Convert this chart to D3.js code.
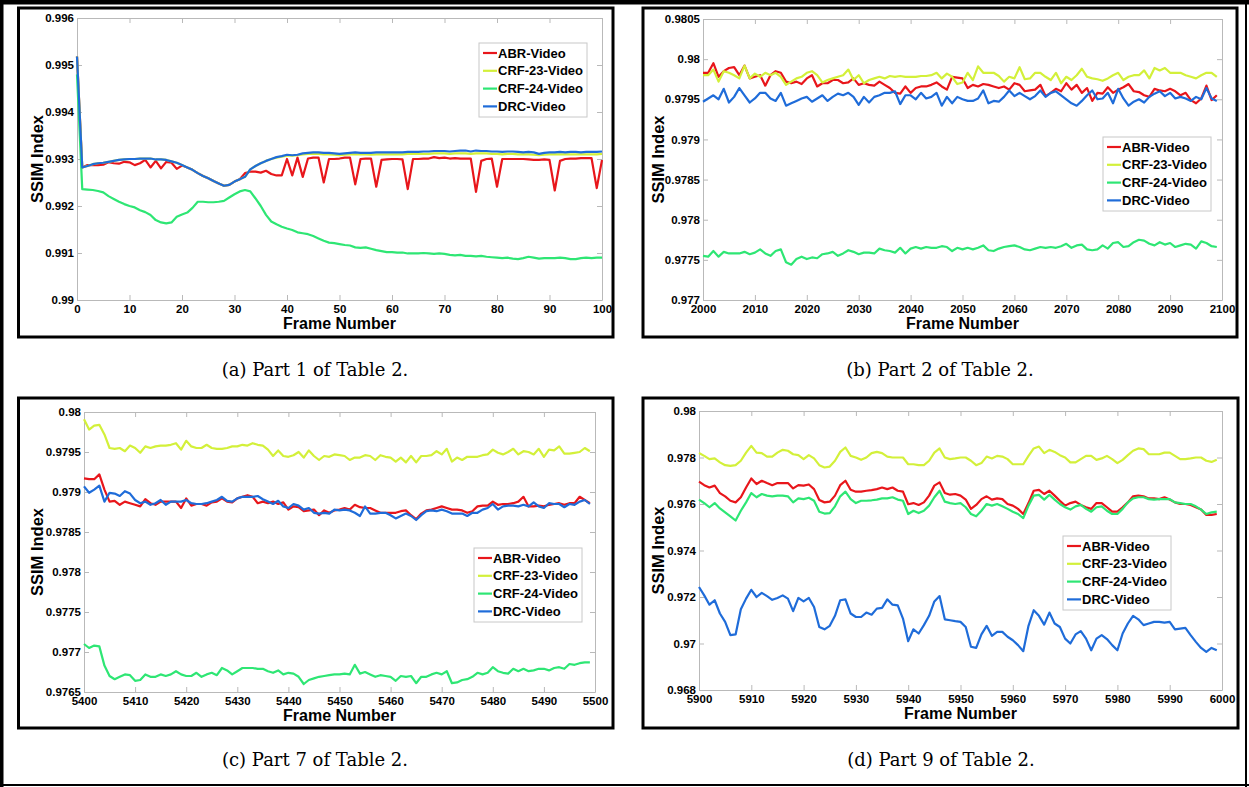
<!DOCTYPE html>
<html>
<head>
<meta charset="utf-8">
<script src="https://cdn.jsdelivr.net/npm/d3@7"></script>
<style>
  body { margin: 0; background: #fff; }
  svg text { font-family: "Liberation Sans", Arial, Helvetica, sans-serif; }
</style>
</head>
<body>
<svg id="fig" width="1249" height="787"></svg>
<script>
/* ---------- series meta ---------- */
const seriesNames  = ['ABR-Video', 'CRF-23-Video', 'CRF-24-Video', 'DRC-Video'];
const seriesColors = ['#e8161b', '#d3f03a', '#2ee674', '#1f6cd9'];

/* ---------- (a) frames 0..100 ---------- */
const startA = 0;
const xTicksA = [0, 10, 20, 30, 40, 50, 60, 70, 80, 90, 100];
const yTicksA = [0.990, 0.991, 0.992, 0.993, 0.994, 0.995, 0.996];
const abrA = [
  0.99518, 0.99282, 0.99287, 0.99287, 0.99287, 0.99288, 0.99293, 0.99291, 0.99290, 0.99294,
  0.99293, 0.99287, 0.99291, 0.99298, 0.99282, 0.99296, 0.99280, 0.99294, 0.99292, 0.99279,
  0.99286, 0.99282, 0.99277, 0.99270, 0.99264, 0.99259, 0.99253, 0.99248, 0.99243, 0.99245,
  0.99252, 0.99257, 0.99270, 0.99273, 0.99273, 0.99271, 0.99275, 0.99268, 0.99265, 0.99265,
  0.99300, 0.99265, 0.99303, 0.99262, 0.99301, 0.99303, 0.99303, 0.99250, 0.99300, 0.99300,
  0.99301, 0.99303, 0.99303, 0.99246, 0.99300, 0.99301, 0.99301, 0.99241, 0.99298, 0.99299,
  0.99300, 0.99300, 0.99299, 0.99236, 0.99300, 0.99300, 0.99301, 0.99301, 0.99304, 0.99302,
  0.99303, 0.99301, 0.99302, 0.99301, 0.99301, 0.99301, 0.99230, 0.99296, 0.99300, 0.99301,
  0.99241, 0.99300, 0.99300, 0.99300, 0.99300, 0.99300, 0.99299, 0.99298, 0.99298, 0.99299,
  0.99298, 0.99233, 0.99296, 0.99300, 0.99301, 0.99301, 0.99302, 0.99302, 0.99302, 0.99238,
  0.99298];
const crf23A = [
  0.99518, 0.99282, 0.99285, 0.99289, 0.99291, 0.99292, 0.99294, 0.99296, 0.99298, 0.99299,
  0.99300, 0.99300, 0.99301, 0.99301, 0.99301, 0.99299, 0.99299, 0.99298, 0.99295, 0.99292,
  0.99287, 0.99282, 0.99277, 0.99270, 0.99264, 0.99259, 0.99253, 0.99248, 0.99243, 0.99245,
  0.99252, 0.99257, 0.99262, 0.99278, 0.99285, 0.99291, 0.99296, 0.99300, 0.99303, 0.99305,
  0.99307, 0.99307, 0.99308, 0.99310, 0.99311, 0.99311, 0.99311, 0.99310, 0.99310, 0.99309,
  0.99308, 0.99309, 0.99310, 0.99310, 0.99310, 0.99310, 0.99309, 0.99310, 0.99310, 0.99310,
  0.99310, 0.99310, 0.99310, 0.99311, 0.99311, 0.99311, 0.99311, 0.99311, 0.99312, 0.99312,
  0.99312, 0.99311, 0.99312, 0.99312, 0.99312, 0.99311, 0.99312, 0.99312, 0.99312, 0.99311,
  0.99311, 0.99310, 0.99311, 0.99311, 0.99310, 0.99310, 0.99310, 0.99309, 0.99308, 0.99309,
  0.99310, 0.99310, 0.99310, 0.99310, 0.99310, 0.99310, 0.99310, 0.99310, 0.99310, 0.99310,
  0.99311];
const crf24A = [
  0.99480, 0.99236, 0.99235, 0.99234, 0.99232, 0.99229, 0.99221, 0.99215, 0.99209, 0.99204,
  0.99200, 0.99197, 0.99191, 0.99187, 0.99181, 0.99170, 0.99165, 0.99163, 0.99165, 0.99177,
  0.99182, 0.99186, 0.99196, 0.99209, 0.99209, 0.99208, 0.99208, 0.99209, 0.99211, 0.99218,
  0.99225, 0.99231, 0.99234, 0.99231, 0.99216, 0.99200, 0.99181, 0.99167, 0.99161, 0.99156,
  0.99152, 0.99149, 0.99144, 0.99142, 0.99140, 0.99136, 0.99131, 0.99126, 0.99122, 0.99121,
  0.99119, 0.99117, 0.99116, 0.99112, 0.99111, 0.99112, 0.99109, 0.99106, 0.99104, 0.99102,
  0.99102, 0.99101, 0.99101, 0.99099, 0.99099, 0.99099, 0.99100, 0.99099, 0.99098, 0.99099,
  0.99098, 0.99096, 0.99095, 0.99096, 0.99094, 0.99094, 0.99093, 0.99094, 0.99092, 0.99091,
  0.99090, 0.99089, 0.99090, 0.99088, 0.99087, 0.99089, 0.99092, 0.99090, 0.99088, 0.99089,
  0.99089, 0.99089, 0.99090, 0.99089, 0.99087, 0.99087, 0.99089, 0.99090, 0.99089, 0.99090,
  0.99090];
const drcA = [
  0.99518, 0.99282, 0.99285, 0.99289, 0.99291, 0.99292, 0.99294, 0.99296, 0.99298, 0.99299,
  0.99300, 0.99300, 0.99301, 0.99301, 0.99301, 0.99299, 0.99299, 0.99298, 0.99295, 0.99292,
  0.99287, 0.99282, 0.99277, 0.99270, 0.99264, 0.99259, 0.99253, 0.99248, 0.99243, 0.99245,
  0.99252, 0.99257, 0.99262, 0.99278, 0.99285, 0.99291, 0.99296, 0.99300, 0.99304, 0.99306,
  0.99309, 0.99308, 0.99309, 0.99312, 0.99313, 0.99314, 0.99314, 0.99313, 0.99313, 0.99312,
  0.99311, 0.99312, 0.99313, 0.99314, 0.99313, 0.99313, 0.99313, 0.99314, 0.99314, 0.99314,
  0.99314, 0.99314, 0.99314, 0.99315, 0.99315, 0.99315, 0.99316, 0.99316, 0.99317, 0.99317,
  0.99317, 0.99316, 0.99317, 0.99318, 0.99318, 0.99316, 0.99318, 0.99317, 0.99317, 0.99316,
  0.99316, 0.99315, 0.99316, 0.99316, 0.99315, 0.99314, 0.99315, 0.99314, 0.99311, 0.99313,
  0.99314, 0.99314, 0.99315, 0.99314, 0.99315, 0.99315, 0.99314, 0.99315, 0.99315, 0.99315,
  0.99316];

/* ---------- (b) frames 2000..2099 ---------- */
const startB = 2000;
const xTicksB = [2000, 2010, 2020, 2030, 2040, 2050, 2060, 2070, 2080, 2090, 2100];
const yTicksB = [0.977, 0.9775, 0.978, 0.9785, 0.979, 0.9795, 0.980, 0.9805];
const abrB = [
  0.97983, 0.97983, 0.97995, 0.97978, 0.97985, 0.97989, 0.97990, 0.97980, 0.97992, 0.97976,
  0.97978, 0.97980, 0.97967, 0.97980, 0.97985, 0.97983, 0.97972, 0.97970, 0.97972, 0.97969,
  0.97976, 0.97980, 0.97966, 0.97970, 0.97970, 0.97974, 0.97974, 0.97970, 0.97971, 0.97976,
  0.97968, 0.97970, 0.97968, 0.97967, 0.97972, 0.97968, 0.97964, 0.97958, 0.97957, 0.97966,
  0.97958, 0.97964, 0.97966, 0.97966, 0.97968, 0.97971, 0.97966, 0.97962, 0.97978, 0.97977,
  0.97976, 0.97964, 0.97968, 0.97966, 0.97969, 0.97968, 0.97966, 0.97964, 0.97966, 0.97962,
  0.97970, 0.97968, 0.97960, 0.97961, 0.97962, 0.97968, 0.97954, 0.97958, 0.97963, 0.97960,
  0.97970, 0.97962, 0.97968, 0.97958, 0.97964, 0.97948, 0.97958, 0.97957, 0.97965, 0.97958,
  0.97962, 0.97965, 0.97969, 0.97960, 0.97959, 0.97955, 0.97953, 0.97963, 0.97961, 0.97960,
  0.97963, 0.97960, 0.97955, 0.97958, 0.97949, 0.97945, 0.97951, 0.97967, 0.97949, 0.97955];
const crf23B = [
  0.97980, 0.97980, 0.97987, 0.97972, 0.97985, 0.97983, 0.97980, 0.97976, 0.97992, 0.97976,
  0.97982, 0.97978, 0.97983, 0.97980, 0.97983, 0.97978, 0.97968, 0.97972, 0.97976, 0.97978,
  0.97983, 0.97985, 0.97980, 0.97971, 0.97974, 0.97976, 0.97978, 0.97980, 0.97987, 0.97974,
  0.97980, 0.97970, 0.97974, 0.97976, 0.97978, 0.97976, 0.97979, 0.97978, 0.97979, 0.97978,
  0.97978, 0.97978, 0.97979, 0.97979, 0.97980, 0.97983, 0.97976, 0.97982, 0.97978, 0.97969,
  0.97971, 0.97983, 0.97974, 0.97991, 0.97983, 0.97983, 0.97983, 0.97979, 0.97972, 0.97978,
  0.97976, 0.97990, 0.97975, 0.97976, 0.97983, 0.97983, 0.97978, 0.97974, 0.97983, 0.97970,
  0.97978, 0.97974, 0.97980, 0.97988, 0.97978, 0.97976, 0.97975, 0.97973, 0.97976, 0.97980,
  0.97983, 0.97974, 0.97978, 0.97980, 0.97980, 0.97986, 0.97976, 0.97989, 0.97986, 0.97989,
  0.97983, 0.97983, 0.97983, 0.97980, 0.97978, 0.97976, 0.97980, 0.97983, 0.97983, 0.97978];
const crf24B = [
  0.97755, 0.97754, 0.97761, 0.97754, 0.97760, 0.97758, 0.97758, 0.97758, 0.97760, 0.97757,
  0.97759, 0.97763, 0.97758, 0.97755, 0.97761, 0.97763, 0.97747, 0.97744, 0.97751, 0.97754,
  0.97751, 0.97753, 0.97752, 0.97757, 0.97758, 0.97760, 0.97755, 0.97758, 0.97762, 0.97760,
  0.97757, 0.97759, 0.97759, 0.97758, 0.97764, 0.97762, 0.97761, 0.97759, 0.97765, 0.97758,
  0.97764, 0.97766, 0.97764, 0.97766, 0.97765, 0.97765, 0.97767, 0.97766, 0.97761, 0.97765,
  0.97763, 0.97765, 0.97763, 0.97765, 0.97768, 0.97762, 0.97761, 0.97764, 0.97766, 0.97767,
  0.97768, 0.97766, 0.97763, 0.97762, 0.97764, 0.97766, 0.97765, 0.97766, 0.97765, 0.97767,
  0.97770, 0.97765, 0.97768, 0.97769, 0.97763, 0.97762, 0.97763, 0.97768, 0.97764, 0.97771,
  0.97772, 0.97766, 0.97767, 0.97772, 0.97775, 0.97774, 0.97770, 0.97768, 0.97772, 0.97769,
  0.97771, 0.97766, 0.97768, 0.97770, 0.97769, 0.97764, 0.97773, 0.97771, 0.97767, 0.97766];
const drcB = [
  0.97947, 0.97951, 0.97955, 0.97950, 0.97963, 0.97946, 0.97953, 0.97964, 0.97955, 0.97946,
  0.97951, 0.97958, 0.97958, 0.97951, 0.97948, 0.97958, 0.97942, 0.97945, 0.97948, 0.97951,
  0.97953, 0.97947, 0.97951, 0.97955, 0.97948, 0.97953, 0.97957, 0.97955, 0.97958, 0.97953,
  0.97943, 0.97953, 0.97946, 0.97953, 0.97955, 0.97958, 0.97958, 0.97960, 0.97944, 0.97955,
  0.97955, 0.97950, 0.97958, 0.97951, 0.97953, 0.97958, 0.97942, 0.97953, 0.97945, 0.97953,
  0.97950, 0.97948, 0.97948, 0.97951, 0.97961, 0.97945, 0.97948, 0.97947, 0.97953, 0.97961,
  0.97954, 0.97958, 0.97954, 0.97950, 0.97954, 0.97961, 0.97953, 0.97958, 0.97960, 0.97955,
  0.97950, 0.97945, 0.97942, 0.97948, 0.97955, 0.97961, 0.97950, 0.97951, 0.97958, 0.97945,
  0.97963, 0.97951, 0.97942, 0.97947, 0.97950, 0.97946, 0.97953, 0.97957, 0.97960, 0.97954,
  0.97958, 0.97951, 0.97953, 0.97951, 0.97948, 0.97953, 0.97950, 0.97964, 0.97951, 0.97948];

/* ---------- (c) frames 5400..5499 ---------- */
const startC = 5400;
const xTicksC = [5400, 5410, 5420, 5430, 5440, 5450, 5460, 5470, 5480, 5490, 5500];
const yTicksC = [0.9765, 0.977, 0.9775, 0.978, 0.9785, 0.979, 0.9795, 0.980];
const abrC = [
  0.97917, 0.97916, 0.97916, 0.97922, 0.97903, 0.97888, 0.97889, 0.97884, 0.97888, 0.97886,
  0.97884, 0.97882, 0.97891, 0.97886, 0.97884, 0.97888, 0.97888, 0.97888, 0.97888, 0.97880,
  0.97892, 0.97883, 0.97885, 0.97885, 0.97883, 0.97887, 0.97888, 0.97892, 0.97888, 0.97887,
  0.97892, 0.97894, 0.97896, 0.97894, 0.97886, 0.97888, 0.97886, 0.97888, 0.97885, 0.97887,
  0.97878, 0.97882, 0.97881, 0.97876, 0.97877, 0.97878, 0.97871, 0.97877, 0.97874, 0.97877,
  0.97878, 0.97880, 0.97878, 0.97884, 0.97881, 0.97880, 0.97880, 0.97877, 0.97874, 0.97874,
  0.97874, 0.97874, 0.97876, 0.97877, 0.97871, 0.97866, 0.97873, 0.97877, 0.97878, 0.97880,
  0.97882, 0.97880, 0.97878, 0.97878, 0.97877, 0.97874, 0.97876, 0.97882, 0.97883, 0.97883,
  0.97888, 0.97884, 0.97885, 0.97885, 0.97886, 0.97888, 0.97894, 0.97882, 0.97882, 0.97883,
  0.97882, 0.97884, 0.97885, 0.97886, 0.97884, 0.97886, 0.97886, 0.97894, 0.97890, 0.97886];
const crf23C = [
  0.97991, 0.97978, 0.97983, 0.97984, 0.97972, 0.97955, 0.97954, 0.97955, 0.97951, 0.97958,
  0.97955, 0.97949, 0.97957, 0.97955, 0.97957, 0.97958, 0.97958, 0.97959, 0.97961, 0.97953,
  0.97964, 0.97957, 0.97955, 0.97955, 0.97959, 0.97955, 0.97954, 0.97954, 0.97955, 0.97957,
  0.97957, 0.97959, 0.97958, 0.97961, 0.97959, 0.97958, 0.97953, 0.97945, 0.97952, 0.97945,
  0.97944, 0.97946, 0.97950, 0.97943, 0.97952, 0.97945, 0.97940, 0.97945, 0.97944, 0.97947,
  0.97946, 0.97945, 0.97940, 0.97943, 0.97943, 0.97946, 0.97945, 0.97940, 0.97946, 0.97944,
  0.97943, 0.97938, 0.97943, 0.97937, 0.97945, 0.97937, 0.97945, 0.97945, 0.97946, 0.97951,
  0.97947, 0.97954, 0.97938, 0.97943, 0.97940, 0.97944, 0.97944, 0.97944, 0.97946, 0.97947,
  0.97953, 0.97949, 0.97947, 0.97950, 0.97954, 0.97947, 0.97951, 0.97950, 0.97947, 0.97954,
  0.97944, 0.97953, 0.97952, 0.97957, 0.97948, 0.97948, 0.97949, 0.97950, 0.97955, 0.97951];
const crf24C = [
  0.97710, 0.97705, 0.97708, 0.97707, 0.97683, 0.97670, 0.97666, 0.97669, 0.97672, 0.97671,
  0.97664, 0.97665, 0.97672, 0.97669, 0.97669, 0.97672, 0.97670, 0.97672, 0.97676, 0.97672,
  0.97670, 0.97670, 0.97674, 0.97669, 0.97672, 0.97674, 0.97671, 0.97680, 0.97677, 0.97672,
  0.97676, 0.97680, 0.97680, 0.97680, 0.97679, 0.97679, 0.97676, 0.97674, 0.97677, 0.97672,
  0.97674, 0.97673, 0.97669, 0.97660, 0.97665, 0.97667, 0.97669, 0.97670, 0.97671, 0.97672,
  0.97672, 0.97673, 0.97672, 0.97684, 0.97673, 0.97675, 0.97672, 0.97669, 0.97671, 0.97670,
  0.97669, 0.97664, 0.97670, 0.97669, 0.97670, 0.97661, 0.97669, 0.97669, 0.97672, 0.97674,
  0.97672, 0.97676, 0.97661, 0.97662, 0.97665, 0.97666, 0.97669, 0.97674, 0.97672, 0.97674,
  0.97681, 0.97676, 0.97674, 0.97673, 0.97679, 0.97676, 0.97679, 0.97676, 0.97677, 0.97679,
  0.97679, 0.97677, 0.97680, 0.97681, 0.97679, 0.97685, 0.97684, 0.97686, 0.97687, 0.97687];
const drcC = [
  0.97907, 0.97899, 0.97903, 0.97908, 0.97888, 0.97899, 0.97898, 0.97895, 0.97901, 0.97898,
  0.97890, 0.97886, 0.97888, 0.97884, 0.97886, 0.97890, 0.97884, 0.97888, 0.97888, 0.97888,
  0.97890, 0.97886, 0.97885, 0.97885, 0.97886, 0.97888, 0.97890, 0.97894, 0.97889, 0.97888,
  0.97892, 0.97894, 0.97894, 0.97894, 0.97895, 0.97891, 0.97888, 0.97885, 0.97889, 0.97882,
  0.97880, 0.97885, 0.97883, 0.97878, 0.97880, 0.97874, 0.97873, 0.97874, 0.97873, 0.97878,
  0.97877, 0.97878, 0.97877, 0.97874, 0.97870, 0.97882, 0.97873, 0.97873, 0.97874, 0.97874,
  0.97871, 0.97867, 0.97870, 0.97873, 0.97870, 0.97865, 0.97871, 0.97876, 0.97877, 0.97876,
  0.97878, 0.97876, 0.97873, 0.97873, 0.97873, 0.97870, 0.97874, 0.97874, 0.97878, 0.97880,
  0.97885, 0.97878, 0.97882, 0.97883, 0.97883, 0.97882, 0.97884, 0.97882, 0.97887, 0.97882,
  0.97880, 0.97886, 0.97885, 0.97885, 0.97881, 0.97885, 0.97884, 0.97888, 0.97890, 0.97885];

/* ---------- (d) frames 5900..5999 ---------- */
const startD = 5900;
const xTicksD = [5900, 5910, 5920, 5930, 5940, 5950, 5960, 5970, 5980, 5990, 6000];
const yTicksD = [0.968, 0.970, 0.972, 0.974, 0.976, 0.978, 0.980];
const abrD = [
  0.97696, 0.97681, 0.97671, 0.97679, 0.97647, 0.97633, 0.97614, 0.97607, 0.97629, 0.97671,
  0.97710, 0.97686, 0.97700, 0.97690, 0.97681, 0.97690, 0.97690, 0.97690, 0.97667, 0.97681,
  0.97679, 0.97684, 0.97664, 0.97617, 0.97607, 0.97610, 0.97636, 0.97681, 0.97700, 0.97661,
  0.97653, 0.97653, 0.97657, 0.97660, 0.97664, 0.97671, 0.97664, 0.97671, 0.97657, 0.97653,
  0.97599, 0.97604, 0.97596, 0.97607, 0.97636, 0.97679, 0.97693, 0.97647, 0.97640, 0.97643,
  0.97636, 0.97619, 0.97579, 0.97596, 0.97621, 0.97633, 0.97619, 0.97624, 0.97621, 0.97600,
  0.97593, 0.97579, 0.97557, 0.97604, 0.97657, 0.97661, 0.97643, 0.97657, 0.97636, 0.97614,
  0.97593, 0.97604, 0.97610, 0.97596, 0.97586, 0.97579, 0.97604, 0.97604, 0.97586, 0.97567,
  0.97567, 0.97586, 0.97607, 0.97633, 0.97636, 0.97633, 0.97624, 0.97624, 0.97621, 0.97629,
  0.97619, 0.97607, 0.97600, 0.97600, 0.97596, 0.97586, 0.97576, 0.97553, 0.97553, 0.97557];
const crf23D = [
  0.97819, 0.97807, 0.97793, 0.97796, 0.97779, 0.97767, 0.97764, 0.97767, 0.97786, 0.97821,
  0.97850, 0.97821, 0.97819, 0.97804, 0.97804, 0.97821, 0.97833, 0.97829, 0.97814, 0.97810,
  0.97793, 0.97810, 0.97796, 0.97767, 0.97757, 0.97761, 0.97786, 0.97824, 0.97843, 0.97807,
  0.97800, 0.97790, 0.97800, 0.97819, 0.97824, 0.97819, 0.97804, 0.97800, 0.97800, 0.97800,
  0.97771, 0.97771, 0.97767, 0.97767, 0.97786, 0.97821, 0.97839, 0.97800, 0.97793, 0.97796,
  0.97800, 0.97800, 0.97786, 0.97767, 0.97776, 0.97804, 0.97796, 0.97807, 0.97804, 0.97793,
  0.97771, 0.97771, 0.97771, 0.97807, 0.97839, 0.97847, 0.97819, 0.97833, 0.97824, 0.97810,
  0.97800, 0.97779, 0.97779, 0.97793, 0.97807, 0.97807, 0.97790, 0.97796, 0.97807, 0.97793,
  0.97776, 0.97790, 0.97810, 0.97829, 0.97839, 0.97836, 0.97814, 0.97814, 0.97814, 0.97821,
  0.97821, 0.97807, 0.97793, 0.97793, 0.97796, 0.97800, 0.97800, 0.97786, 0.97781, 0.97790];
const crf24D = [
  0.97619, 0.97604, 0.97586, 0.97604, 0.97581, 0.97564, 0.97547, 0.97529, 0.97571, 0.97607,
  0.97647, 0.97629, 0.97643, 0.97636, 0.97633, 0.97636, 0.97636, 0.97633, 0.97607, 0.97624,
  0.97621, 0.97627, 0.97614, 0.97567, 0.97559, 0.97561, 0.97590, 0.97633, 0.97653, 0.97621,
  0.97604, 0.97614, 0.97614, 0.97616, 0.97619, 0.97624, 0.97624, 0.97629, 0.97619, 0.97614,
  0.97557, 0.97571, 0.97561, 0.97571, 0.97593, 0.97629, 0.97657, 0.97610, 0.97604, 0.97600,
  0.97604, 0.97586, 0.97557, 0.97547, 0.97571, 0.97600, 0.97593, 0.97600, 0.97590, 0.97579,
  0.97567, 0.97557, 0.97539, 0.97593, 0.97636, 0.97639, 0.97619, 0.97639, 0.97619, 0.97600,
  0.97586, 0.97576, 0.97590, 0.97596, 0.97579, 0.97567, 0.97586, 0.97590, 0.97571, 0.97557,
  0.97557, 0.97579, 0.97607, 0.97624, 0.97629, 0.97629, 0.97621, 0.97619, 0.97621, 0.97621,
  0.97621, 0.97607, 0.97604, 0.97600, 0.97600, 0.97590, 0.97576, 0.97557, 0.97564, 0.97567];
const drcD = [
  0.97243, 0.97207, 0.97167, 0.97186, 0.97129, 0.97093, 0.97036, 0.97039, 0.97147, 0.97193,
  0.97231, 0.97200, 0.97218, 0.97204, 0.97188, 0.97196, 0.97207, 0.97193, 0.97139, 0.97196,
  0.97181, 0.97196, 0.97157, 0.97071, 0.97061, 0.97076, 0.97119, 0.97186, 0.97190, 0.97129,
  0.97114, 0.97114, 0.97133, 0.97124, 0.97150, 0.97153, 0.97190, 0.97167, 0.97164, 0.97107,
  0.97010, 0.97061, 0.97043, 0.97079, 0.97119, 0.97181, 0.97204, 0.97104, 0.97100, 0.97096,
  0.97093, 0.97071, 0.96986, 0.96981, 0.97039, 0.97076, 0.97033, 0.97050, 0.97050, 0.97029,
  0.97014, 0.96993, 0.96967, 0.97076, 0.97143, 0.97119, 0.97081, 0.97133, 0.97086, 0.97071,
  0.97021, 0.97000, 0.97039, 0.97053, 0.97021, 0.96971, 0.97021, 0.97036, 0.97019, 0.96993,
  0.96971, 0.97043, 0.97086, 0.97119, 0.97104, 0.97079, 0.97086, 0.97093, 0.97093, 0.97090,
  0.97093, 0.97061, 0.97064, 0.97067, 0.97036, 0.97007, 0.96981, 0.96964, 0.96981, 0.96971];

/* ---------- panel layout ---------- */
const panels = [
  { start: startA, series: [abrA, crf23A, crf24A, drcA], xTicks: xTicksA, yTicks: yTicksA,
    caption: '(a) Part 1 of Table 2.', box: [18.5, 8, 613, 337], plot: [77, 18, 602, 300],
    legend: [479, 43], ylabX: 37, cap: [315, 370] },
  { start: startB, series: [abrB, crf23B, crf24B, drcB], xTicks: xTicksB, yTicks: yTicksB,
    caption: '(b) Part 2 of Table 2.', box: [643, 8, 1237, 337], plot: [703, 19, 1222, 300],
    legend: [1103, 137], ylabX: 658, cap: [940, 370] },
  { start: startC, series: [abrC, crf23C, crf24C, drcC], xTicks: xTicksC, yTicks: yTicksC,
    caption: '(c) Part 7 of Table 2.', box: [18.5, 398, 613, 728], plot: [84, 412, 595, 692],
    legend: [474, 548], ylabX: 37, cap: [315, 760] },
  { start: startD, series: [abrD, crf23D, crf24D, drcD], xTicks: xTicksD, yTicks: yTicksD,
    caption: '(d) Part 9 of Table 2.', box: [643, 398, 1238, 728], plot: [699, 411, 1222, 690],
    legend: [1063, 536], ylabX: 658, cap: [941, 760] }
];

const svg = d3.select('#fig');
svg.append('rect').attr('width', 1249).attr('height', 787).attr('fill', '#fff');

/* page / table frame */
svg.append('rect').attr('x', 0).attr('y', 0).attr('width', 1249).attr('height', 4.5).attr('fill', '#000');
svg.append('rect').attr('x', 0).attr('y', 0).attr('width', 3.5).attr('height', 787).attr('fill', '#000');
svg.append('line').attr('x1', 1246).attr('x2', 1246).attr('y1', 0).attr('y2', 787)
  .attr('stroke', '#000').attr('stroke-width', 2);
svg.append('line').attr('x1', 0).attr('x2', 1249).attr('y1', 785).attr('y2', 785)
  .attr('stroke', '#000').attr('stroke-width', 2);

const fmt = d3.format('.4~f');
const axisGrey = '#b9b9b9';

function drawPanel(p) {
  const [bx0, by0, bx1, by1] = p.box;
  const [px0, py0, px1, py1] = p.plot;

  // panel frame
  svg.append('rect').attr('x', bx0).attr('y', by0)
    .attr('width', bx1 - bx0).attr('height', by1 - by0)
    .attr('fill', '#fff').attr('stroke', '#000').attr('stroke-width', 3);

  const x = d3.scaleLinear().domain([p.xTicks[0], p.xTicks[p.xTicks.length - 1]]).range([px0, px1]);
  const y = d3.scaleLinear().domain([p.yTicks[0], p.yTicks[p.yTicks.length - 1]]).range([py1, py0]);

  const g = svg.append('g');

  // axes: MATLAB style box with inward ticks on all sides
  const styleAxis = sel => {
    sel.selectAll('path.domain').attr('stroke', axisGrey);
    sel.selectAll('.tick line').attr('stroke', axisGrey);
    sel.selectAll('.tick text').attr('fill', '#000')
      .style('font-size', '11.5px').style('font-weight', 'bold')
      .style('font-family', '"Liberation Sans", Arial, sans-serif');
  };
  g.append('g').attr('transform', `translate(0,${py1})`)
    .call(d3.axisBottom(x).tickValues(p.xTicks).tickFormat(d3.format('d')).tickSize(-5).tickSizeOuter(0).tickPadding(5))
    .call(styleAxis);
  g.append('g').attr('transform', `translate(0,${py0})`)
    .call(d3.axisTop(x).tickValues(p.xTicks).tickFormat('').tickSize(-5).tickSizeOuter(0))
    .call(styleAxis);
  g.append('g').attr('transform', `translate(${px0},0)`)
    .call(d3.axisLeft(y).tickValues(p.yTicks).tickFormat(fmt).tickSize(-5).tickSizeOuter(0).tickPadding(3))
    .call(styleAxis);
  g.append('g').attr('transform', `translate(${px1},0)`)
    .call(d3.axisRight(y).tickValues(p.yTicks).tickFormat('').tickSize(-5).tickSizeOuter(0))
    .call(styleAxis);

  // series
  const line = d3.line().x((d, i) => x(p.start + i)).y(d => y(d));
  p.series.forEach((vals, si) => {
    g.append('path').datum(vals)
      .attr('fill', 'none').attr('stroke', seriesColors[si])
      .attr('stroke-width', 2.2).attr('stroke-linejoin', 'round')
      .attr('d', line);
  });

  // axis titles
  g.append('text')
    .attr('transform', `translate(${p.ylabX},${(py0 + py1) / 2}) rotate(-90)`)
    .attr('text-anchor', 'middle').attr('dy', '0.35em')
    .style('font-size', '16.5px').style('font-weight', 'bold')
    .text('SSIM Index');
  g.append('text')
    .attr('x', (px0 + px1) / 2).attr('y', py1 + 29)
    .attr('text-anchor', 'middle')
    .style('font-size', '16px').style('font-weight', 'bold')
    .text('Frame Number');

  // legend
  const [lx, ly] = p.legend;
  const lg = g.append('g').attr('transform', `translate(${lx},${ly})`);
  lg.append('rect').attr('width', 108).attr('height', 74)
    .attr('fill', '#fff').attr('stroke', '#c8c8c8').attr('stroke-width', 1);
  seriesNames.forEach((name, i) => {
    const cy = 10 + i * 17.8;
    lg.append('line').attr('x1', 4).attr('x2', 18).attr('y1', cy).attr('y2', cy)
      .attr('stroke', seriesColors[i]).attr('stroke-width', 2.2);
    lg.append('text').attr('x', 19).attr('y', cy).attr('dy', '0.36em')
      .style('font-size', '13px').style('font-weight', 'bold')
      .text(name);
  });

  // caption
  svg.append('text').attr('x', p.cap[0]).attr('y', p.cap[1]).attr('dy', '0.35em')
    .attr('text-anchor', 'middle')
    .style('font-family', '"DejaVu Serif", "Liberation Serif", serif')
    .style('font-size', '18px')
    .text(p.caption);
}

panels.forEach(drawPanel);
</script>
</body>
</html>
